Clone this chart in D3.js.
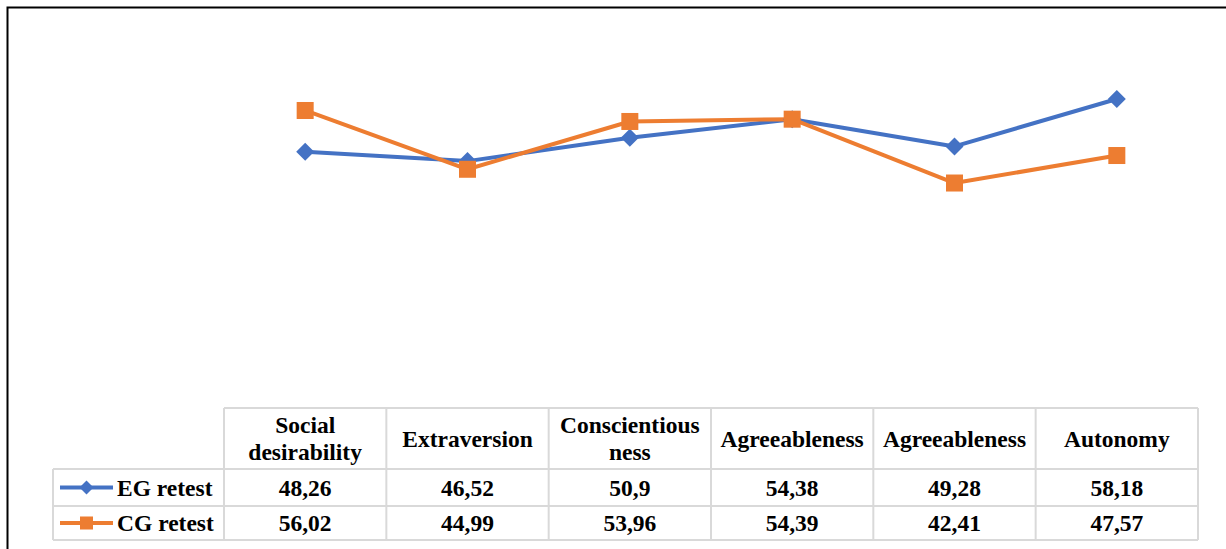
<!DOCTYPE html>
<html>
<head>
<meta charset="utf-8">
<script src="https://cdn.jsdelivr.net/npm/d3@7"></script>
<style>
  html, body { margin: 0; padding: 0; background: #fff; }
  svg { display: block; }
</style>
</head>
<body>
<svg id="chart" width="1226" height="549"></svg>
<script>
// ---- data ----
const categoryLabels = [
  ["Social", "desirability"],
  ["Extraversion"],
  ["Conscientious", "ness"],
  ["Agreeableness"],
  ["Agreeableness"],
  ["Autonomy"]
];
const seriesNames = ["EG retest", "CG retest"];
const egValues = [48.26, 46.52, 50.9, 54.38, 49.28, 58.18];
const cgValues = [56.02, 44.99, 53.96, 54.39, 42.41, 47.57];
const egLabels = ["48,26", "46,52", "50,9", "54,38", "49,28", "58,18"];
const cgLabels = ["56,02", "44,99", "53,96", "54,39", "42,41", "47,57"];
const yDomain = [0, 70];

const series = [
  { name: seriesNames[0], values: egValues, labels: egLabels, color: "#4472C4", marker: "diamond" },
  { name: seriesNames[1], values: cgValues, labels: cgLabels, color: "#ED7D31", marker: "square" }
];

// ---- layout ----
const svg = d3.select("#chart");
const tableLeft = 224, tableRight = 1198;
const legendLeft = 53;
const plotTop = 36, plotBottom = 409;
const rowY = [408, 469, 506, 540];

const idx = d3.range(categoryLabels.length);
const x = d3.scaleBand().domain(idx).range([tableLeft, tableRight]).padding(0);
const y = d3.scaleLinear().domain(yDomain).range([plotBottom, plotTop]);

// outer frame
svg.append("path")
  .attr("d", `M7.5,560 L7.5,7.5 L1240,7.5`)
  .attr("fill", "none")
  .attr("stroke", "#000")
  .attr("stroke-width", 2);

const fontFamily = "Liberation Serif";

// ---- lines ----
const line = d3.line().x((d, i) => x(i) + x.bandwidth() / 2).y(d => y(d));

const gLines = svg.append("g");
series.forEach(s => {
  gLines.append("path")
    .datum(s.values)
    .attr("d", line)
    .attr("fill", "none")
    .attr("stroke", s.color)
    .attr("stroke-width", 4)
    .attr("stroke-linejoin", "round");
});

function drawMarker(g, type, cx, cy, color, size) {
  if (type === "diamond") {
    const r = size / 2;
    g.append("path")
      .attr("d", `M${cx},${cy - r} L${cx + r},${cy} L${cx},${cy + r} L${cx - r},${cy} Z`)
      .attr("fill", color);
  } else {
    g.append("rect")
      .attr("x", cx - size / 2).attr("y", cy - size / 2)
      .attr("width", size).attr("height", size)
      .attr("fill", color);
  }
}

series.forEach(s => {
  const g = svg.append("g");
  s.values.forEach((v, i) => {
    drawMarker(g, s.marker, x(i) + x.bandwidth() / 2, y(v), s.color, s.marker === "diamond" ? 18 : 17);
  });
});

// ---- data table ----
const gridColor = "#D9D9D9";
const gt = svg.append("g").attr("stroke", gridColor).attr("stroke-width", 2);
gt.append("line").attr("x1", tableLeft).attr("x2", tableRight).attr("y1", rowY[0]).attr("y2", rowY[0]);
[1, 2, 3].forEach(k => {
  gt.append("line").attr("x1", legendLeft).attr("x2", tableRight).attr("y1", rowY[k]).attr("y2", rowY[k]);
});
idx.concat([idx.length]).forEach(i => {
  const xx = i < idx.length ? x(i) : tableRight;
  gt.append("line").attr("x1", xx).attr("x2", xx).attr("y1", rowY[0]).attr("y2", rowY[3]);
});
gt.append("line").attr("x1", legendLeft).attr("x2", legendLeft).attr("y1", rowY[1]).attr("y2", rowY[3]);

const fs = 23.5;
const gh = svg.append("g")
  .style("font-family", fontFamily).attr("font-weight", "bold")
  .attr("font-size", fs).attr("fill", "#000").attr("text-anchor", "middle");
categoryLabels.forEach((lines, i) => {
  const cx = x(i) + x.bandwidth() / 2;
  const cy = (rowY[0] + rowY[1]) / 2;
  const lh = 27;
  const t = gh.append("text").attr("x", cx);
  lines.forEach((ln, j) => {
    t.append("tspan")
      .attr("x", cx)
      .attr("y", cy + (j - (lines.length - 1) / 2) * lh)
      .attr("dy", "0.35em")
      .text(ln);
  });
});

series.forEach((s, r) => {
  const cy = (rowY[r + 1] + rowY[r + 2]) / 2;
  s.labels.forEach((lab, i) => {
    gh.append("text")
      .attr("x", x(i) + x.bandwidth() / 2)
      .attr("y", cy)
      .attr("dy", "0.35em")
      .text(lab);
  });
  const lg = svg.append("g");
  lg.append("line")
    .attr("x1", 60).attr("x2", 113).attr("y1", cy).attr("y2", cy)
    .attr("stroke", s.color).attr("stroke-width", 4);
  drawMarker(lg, s.marker, 86.5, cy, s.color, s.marker === "diamond" ? 14 : 13);
  lg.append("text")
    .attr("x", 117).attr("y", cy).attr("dy", "0.35em")
    .style("font-family", fontFamily).attr("font-weight", "bold")
    .attr("font-size", fs).attr("fill", "#000")
    .text(s.name);
});
</script>
</body>
</html>
